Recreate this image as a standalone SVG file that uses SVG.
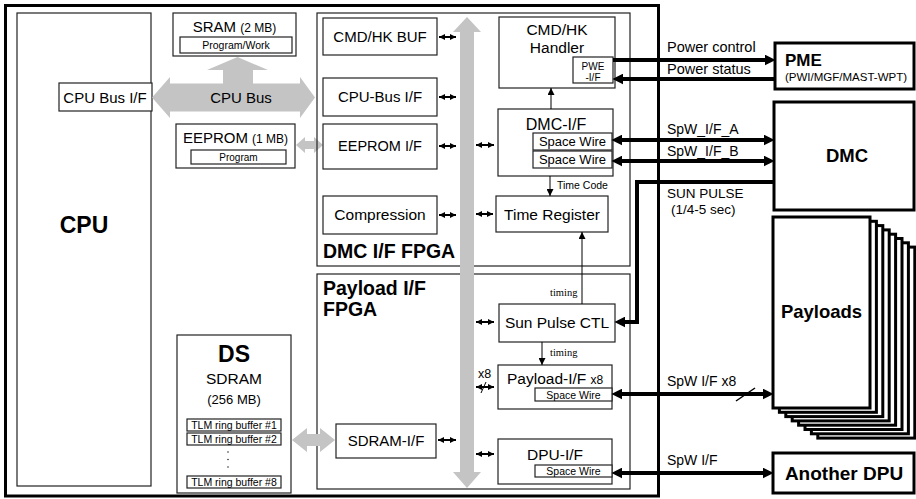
<svg xmlns="http://www.w3.org/2000/svg" width="916" height="499" viewBox="0 0 916 499">
<defs>
<style>
text{font-family:"Liberation Sans",Arial,sans-serif;fill:#000}
.b{fill:#fff;stroke:#222;stroke-width:1.2}
.thick{fill:#fff;stroke:#000;stroke-width:3}
.fp{fill:none;stroke:#222;stroke-width:1.2}
.gray{fill:#c4c4c4;stroke:none}
.sm{stroke:#000;stroke-width:2;fill:none;marker-start:url(#sh);marker-end:url(#sh)}
.th{stroke:#000;stroke-width:4;fill:none}
.tn{stroke:#000;stroke-width:1;fill:none;marker-end:url(#tn)}
.c{text-anchor:middle}
.bd{font-weight:bold}
.serif{font-family:"Liberation Serif","Times New Roman",serif}
</style>
<marker id="sh" viewBox="0 0 10 10" refX="10" refY="5" markerUnits="userSpaceOnUse" markerWidth="6" markerHeight="7" orient="auto-start-reverse"><path d="M0,0 L10,5 L0,10 z"/></marker>
<marker id="ah" viewBox="0 0 10 10" refX="4" refY="5" markerUnits="userSpaceOnUse" markerWidth="11" markerHeight="11" orient="auto-start-reverse"><path d="M0,0 L10,5 L0,10 z"/></marker>
<marker id="tn" viewBox="0 0 10 10" refX="10" refY="5" markerUnits="userSpaceOnUse" markerWidth="7" markerHeight="7" orient="auto"><path d="M0,0 L10,5 L0,10 z"/></marker>
</defs>
<rect width="916" height="499" fill="#fff"/>

<g id="frame"><rect x="5.5" y="5.5" width="653" height="490.5" fill="none" stroke="#000" stroke-width="3"/></g>

<g id="cpu">
<rect class="b" x="17" y="13" width="134" height="473"/>
<text class="c bd" x="84" y="233" font-size="23">CPU</text>
</g>
<g id="cpu-bus-if">
<rect class="b" x="59" y="83" width="93" height="28"/>
<text class="c" x="105" y="103" font-size="15">CPU Bus I/F</text>
</g>

<g id="cpu-bus">
<polygon class="gray" points="152,97.5 170,77 170,83.5 223,83.5 223,70 207,70 237.5,57 268,70 253,70 253,83.5 300,83.5 300,77 315,97.5 300,118 300,111.5 170,111.5 170,118"/>
<text class="c" x="241" y="103" font-size="15">CPU Bus</text>
</g>

<g id="sram">
<rect class="b" x="173" y="13" width="123" height="43"/>
<text class="c" x="234.5" y="32" font-size="15">SRAM <tspan font-size="12">(2 MB)</tspan></text>
<rect class="b" x="180" y="37" width="112" height="16"/>
<text class="c" x="236" y="49" font-size="10.5">Program/Work</text>
</g>

<g id="eeprom">
<rect class="b" x="176" y="124" width="119" height="44"/>
<text class="c" x="235.5" y="143" font-size="15">EEPROM <tspan font-size="12">(1 MB)</tspan></text>
<rect class="b" x="191" y="150" width="95" height="14"/>
<text class="c" x="238.5" y="161" font-size="10">Program</text>
</g>
<polygon class="gray" points="296,145 305,137 305,141 314,141 314,137 323,145 314,153 314,149 305,149 305,153"/>

<g id="dmc-fpga">
<rect class="fp" x="317" y="13" width="313" height="253"/>
<text class="bd" x="323" y="258" font-size="19.5">DMC I/F FPGA</text>
</g>
<g id="payload-fpga">
<rect class="fp" x="317" y="274" width="313" height="215"/>
<text class="bd" x="323" y="295" font-size="19.5">Payload I/F</text>
<text class="bd" x="323" y="316" font-size="19.5">FPGA</text>
</g>

<g id="internal-bus"><polygon class="gray" points="467,17 481,32 474,32 474,472 481,472 467,488 453,472 460,472 460,32 453,32"/></g>

<g id="cmdhk-buf"><rect class="b" x="323" y="18" width="114" height="37"/><text class="c" x="380" y="42" font-size="15">CMD/HK BUF</text></g>
<g id="cpu-bus-if2"><rect class="b" x="323" y="78" width="114" height="38"/><text class="c" x="380" y="102" font-size="15">CPU-Bus I/F</text></g>
<g id="eeprom-if"><rect class="b" x="323" y="124" width="114" height="45"/><text class="c" x="380" y="151" font-size="14.5">EEPROM I/F</text></g>
<g id="compression"><rect class="b" x="323" y="196" width="114" height="38"/><text class="c" x="380" y="220" font-size="15.5">Compression</text></g>

<g id="cmdhk-handler">
<rect class="b" x="499" y="17" width="116" height="71"/>
<text class="c" x="557" y="35" font-size="15.5">CMD/HK</text>
<text class="c" x="557" y="53" font-size="15.5">Handler</text>
<rect class="b" x="573" y="57" width="40" height="26"/>
<text class="c" x="593" y="69.5" font-size="10">PWE</text>
<text class="c" x="593" y="80.5" font-size="10">-I/F</text>
</g>

<g id="dmc-if">
<rect class="b" x="498" y="109" width="115" height="67"/>
<text class="c" x="556" y="130" font-size="16">DMC-I/F</text>
<rect class="b" x="533" y="133" width="79" height="17"/>
<text class="c" x="572.5" y="146" font-size="13">Space Wire</text>
<rect class="b" x="533" y="151" width="79" height="17"/>
<text class="c" x="572.5" y="164" font-size="13">Space Wire</text>
</g>

<g id="time-register"><rect class="b" x="496" y="196" width="112" height="36"/><text class="c" x="552" y="220" font-size="15.5">Time Register</text></g>

<g id="sun-pulse-ctl"><rect class="b" x="499" y="304" width="116" height="38"/><text class="c" x="557" y="328" font-size="15.5">Sun Pulse CTL</text></g>

<g id="payload-if">
<rect class="b" x="498" y="365" width="114" height="44"/>
<text x="507" y="384" font-size="15.5">Payload-I/F <tspan font-size="12">x8</tspan></text>
<rect class="b" x="535" y="388" width="77" height="13"/>
<text class="c" x="573.5" y="398.5" font-size="10.5">Space Wire</text>
</g>

<g id="dpu-if">
<rect class="b" x="498" y="439" width="114" height="45"/>
<text class="c" x="555" y="460" font-size="15.5">DPU-I/F</text>
<rect class="b" x="535" y="465" width="77" height="12"/>
<text class="c" x="573.5" y="475" font-size="10.5">Space Wire</text>
</g>

<g id="sdram-if"><rect class="b" x="336" y="424" width="100" height="34"/><text class="c" x="386" y="446" font-size="15">SDRAM-I/F</text></g>

<g id="ds">
<rect class="b" x="177" y="335" width="114" height="158"/>
<text class="c bd" x="234" y="362" font-size="23">DS</text>
<text class="c" x="234" y="384" font-size="15.5">SDRAM</text>
<text class="c" x="234" y="404" font-size="13">(256 MB)</text>
<rect class="b" x="187" y="419" width="94" height="12"/>
<text class="c" x="234" y="429" font-size="10.5">TLM ring buffer #1</text>
<rect class="b" x="187" y="433" width="94" height="12"/>
<text class="c" x="234" y="443" font-size="10.5">TLM ring buffer #2</text>
<circle cx="228" cy="452" r="0.7"/><circle cx="228" cy="459.5" r="0.7"/><circle cx="228" cy="467" r="0.7"/>
<rect class="b" x="187" y="476" width="94" height="12"/>
<text class="c" x="234" y="486" font-size="10.5">TLM ring buffer #8</text>
</g>
<polygon class="gray" points="292,440 307,428 307,434 320,434 320,428 335,440 320,452 320,446 307,446 307,452"/>

<g id="pme">
<rect class="thick" x="775" y="43" width="139" height="46"/>
<text class="bd" x="785" y="66" font-size="17">PME</text>
<text x="785" y="80.5" font-size="11.5">(PWI/MGF/MAST-WPT)</text>
</g>

<g id="dmc">
<rect class="thick" x="774" y="102" width="140" height="108"/>
<text class="c bd" x="847" y="162" font-size="18.5">DMC</text>
</g>

<g id="payloads">
<rect class="thick" x="817.8" y="247.1" width="97" height="191"/>
<rect class="thick" x="811.4" y="242.8" width="97" height="191"/>
<rect class="thick" x="805" y="238.5" width="97" height="191"/>
<rect class="thick" x="798.6" y="234.2" width="97" height="191"/>
<rect class="thick" x="792.2" y="229.9" width="97" height="191"/>
<rect class="thick" x="785.8" y="225.6" width="97" height="191"/>
<rect class="thick" x="779.4" y="221.3" width="97" height="191"/>
<rect class="thick" x="773" y="217" width="97" height="191"/>
<text class="c bd" x="821.5" y="318" font-size="18.5">Payloads</text>
</g>

<g id="another-dpu">
<rect class="thick" x="773" y="453" width="141" height="40"/>
<text class="c bd" x="844" y="480" font-size="19">Another DPU</text>
</g>

<g id="connectors">
<line class="sm" x1="439" y1="37" x2="456" y2="37"/>
<line class="sm" x1="439" y1="97" x2="456" y2="97"/>
<line class="sm" x1="439" y1="146" x2="456" y2="146"/>
<line class="sm" x1="439" y1="215" x2="456" y2="215"/>
<line class="sm" x1="438" y1="440" x2="456" y2="440"/>
<line class="sm" x1="476" y1="145" x2="494" y2="145"/>
<line class="sm" x1="476" y1="214" x2="493" y2="214"/>
<line class="sm" x1="476" y1="322" x2="494" y2="322"/>
<line class="sm" x1="476" y1="387" x2="494" y2="387"/>
<line class="sm" x1="476" y1="454" x2="494" y2="454"/>
<line x1="481" y1="393" x2="486" y2="382" stroke="#000" stroke-width="1"/>
<text x="478" y="378" font-size="12.5">x8</text>

<line class="tn" x1="551" y1="109" x2="551" y2="88"/>
<line class="tn" x1="550" y1="176" x2="550" y2="196"/>
<text x="557" y="189" font-size="10.5">Time Code</text>
<line class="tn" x1="582" y1="304" x2="582" y2="232"/>
<text class="serif" x="550" y="296" font-size="10.5">timing</text>
<line class="tn" x1="542" y1="342" x2="542" y2="365"/>
<text class="serif" x="550" y="356" font-size="10.5">timing</text>

<line class="th" x1="613" y1="60" x2="769" y2="60" marker-end="url(#ah)"/>
<text x="667" y="52" font-size="14.5">Power control</text>
<line class="th" x1="775" y1="79" x2="619" y2="79" marker-end="url(#ah)"/>
<text x="667" y="74" font-size="14.5">Power status</text>

<line class="th" x1="618" y1="140" x2="768" y2="140" marker-start="url(#ah)" marker-end="url(#ah)"/>
<text x="667" y="134" font-size="14">SpW_I/F_A</text>
<line class="th" x1="618" y1="161" x2="768" y2="161" marker-start="url(#ah)" marker-end="url(#ah)"/>
<text x="667" y="156" font-size="14">SpW_I/F_B</text>

<polyline class="th" points="774,182 637,182 637,322 621,322" marker-end="url(#ah)"/>
<text x="667" y="198" font-size="13.5">SUN PULSE</text>
<text x="671" y="214" font-size="13.5">(1/4-5 sec)</text>

<line class="th" x1="618" y1="394" x2="767" y2="394" marker-start="url(#ah)" marker-end="url(#ah)"/>
<line x1="736" y1="401" x2="755" y2="388" stroke="#000" stroke-width="1.5"/>
<text x="667" y="386" font-size="14">SpW I/F x8</text>

<line class="th" x1="618" y1="473" x2="767" y2="473" marker-start="url(#ah)" marker-end="url(#ah)"/>
<text x="667" y="465" font-size="14">SpW I/F</text>
</g>
</svg>
